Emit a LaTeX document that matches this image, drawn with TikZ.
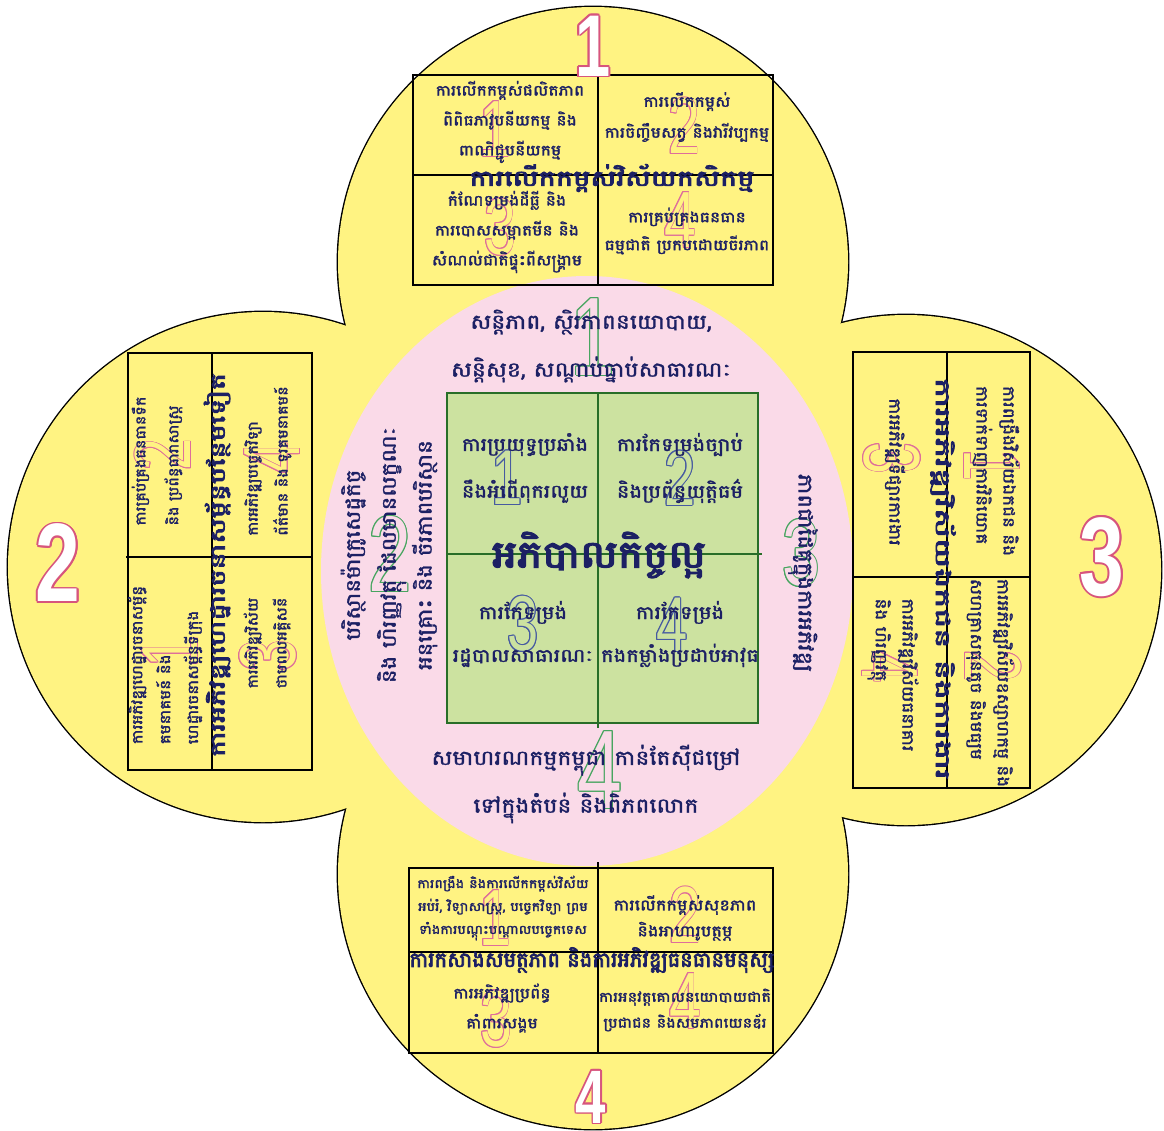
\documentclass[tikz,border=0pt]{standalone}
\usepackage{fontspec}
\usepackage{graphicx}
\usetikzlibrary{calc}
\newfontfamily\kh[Script=Khmer,FakeBold=1.8,FakeStretch=1.15]{Battambang}
\newfontfamily\khb[Script=Khmer,FakeBold=3.5]{Battambang}
\newfontfamily\numf{Liberation Sans}
\definecolor{ylw}{RGB}{255,243,130}
\definecolor{pnk}{RGB}{250,218,232}
\definecolor{grn}{RGB}{204,226,160}
\definecolor{dgrn}{RGB}{40,110,40}
\definecolor{navy}{RGB}{28,32,100}
\definecolor{pnum}{RGB}{222,110,155}
\definecolor{gnum}{RGB}{70,165,95}
\definecolor{bnum}{RGB}{70,90,160}
\definecolor{onum}{RGB}{215,85,125}
\tikzset{
  kt/.style={inner sep=0pt, text=navy, align=center},
  bx/.style={draw=black, line width=1.4bp},
  gl/.style={draw=dgrn, line width=1.3bp}
}
% x, y, rotation, size, digit, stroke colour, fill colour, font, offset
\newcommand\onum[9]{%
  \foreach \a in {0,30,...,330}{%
    \node[inner sep=0pt,rotate=#3,text=#6,font=#8\fontsize{#4}{#4}\selectfont] at ($(#1,#2)+(\a:#9)$) {\scalebox{0.72}[1]{#5}};}
  \node[inner sep=0pt,rotate=#3,text=#7,font=#8\fontsize{#4}{#4}\selectfont] at (#1,#2) {\scalebox{0.72}[1]{#5}};
}
% title of given width
\newcommand\ttl[2]{\resizebox{#1bp}{\height}{#2}}
\begin{document}
\begin{tikzpicture}[x=1bp,y=-1bp]
\useasboundingbox (0,0) rectangle (1164,1131);
\fill[white] (0,0) rectangle (1164,1131);
% petals
\draw[line width=2.8bp] (593,262) circle[radius=255bp];
\draw[line width=2.8bp] (263,567) circle[radius=255bp];
\draw[line width=2.8bp] (906,570) circle[radius=255bp];
\draw[line width=2.8bp] (593,874) circle[radius=255bp];
\fill[ylw] (593,262) circle[radius=255bp];
\fill[ylw] (263,567) circle[radius=255bp];
\fill[ylw] (906,570) circle[radius=255bp];
\fill[ylw] (593,874) circle[radius=255bp];
% pink centre
\fill[pnk] (587,571) ellipse[x radius=266bp, y radius=295bp];
% boxes
\draw[bx] (413,75) rectangle (773,285);
\draw[bx] (598,72) -- (598,285);
\draw[bx] (413,175) -- (773,175);
\draw[bx] (128,353) rectangle (312,770);
\draw[bx] (212,353) -- (212,770);
\draw[bx] (126,557) -- (312,557);
\draw[bx] (853,352) rectangle (1030,788);
\draw[bx] (947,352) -- (947,788);
\draw[bx] (853,577) -- (1030,577);
\draw[bx] (409,868) rectangle (773,1053);
\draw[bx] (598,862) -- (598,1053);
\draw[bx] (409,952) -- (773,952);
% green square
\fill[grn] (447,393) rectangle (758,723);
\draw[gl] (447,393) rectangle (758,723);
\draw[gl] (598,393) -- (598,728);
\draw[gl] (447,554) -- (762,554);
% big outer numbers
\onum{593}{46}{0}{88}{1}{onum}{white}{\numf\bfseries}{1.7}
\onum{58}{563}{0}{112}{2}{onum}{white}{\numf\bfseries}{1.7}
\onum{1102}{557}{0}{112}{3}{onum}{white}{\numf\bfseries}{1.7}
\onum{591}{1097}{0}{76}{4}{onum}{white}{\numf\bfseries}{1.7}
% pink-circle numbers
\onum{593}{337}{0}{112}{1}{gnum}{pnk}{\numf}{1.0}
\onum{390}{554}{0}{108}{2}{gnum}{pnk}{\numf}{1.0}
\onum{801}{553}{0}{95}{3}{gnum}{pnk}{\numf}{1.0}
\onum{600}{770}{0}{112}{4}{gnum}{pnk}{\numf}{1.0}
% green-square numbers
\onum{507}{478}{0}{78}{1}{bnum}{grn}{\numf}{1.0}
\onum{680}{478}{0}{78}{2}{bnum}{grn}{\numf}{1.0}
\onum{523}{624}{0}{78}{3}{bnum}{grn}{\numf}{1.0}
\onum{672}{625}{0}{78}{4}{bnum}{grn}{\numf}{1.0}
% top box numbers
\onum{495}{129}{0}{80}{1}{pnum}{ylw}{\numf}{0.9}
\onum{684}{126}{0}{80}{2}{pnum}{ylw}{\numf}{0.9}
\onum{500}{227}{0}{80}{3}{pnum}{ylw}{\numf}{0.9}
\onum{680}{220}{0}{80}{4}{pnum}{ylw}{\numf}{0.9}
% left box numbers (rotated)
\onum{163}{455}{90}{80}{2}{pnum}{ylw}{\numf}{0.9}
\onum{272}{458}{90}{80}{4}{pnum}{ylw}{\numf}{0.9}
\onum{170}{652}{90}{80}{1}{pnum}{ylw}{\numf}{0.9}
\onum{268}{656}{90}{80}{3}{pnum}{ylw}{\numf}{0.9}
% right box numbers (rotated)
\onum{992}{465}{-90}{80}{1}{pnum}{ylw}{\numf}{0.9}
\onum{892}{458}{-90}{80}{3}{pnum}{ylw}{\numf}{0.9}
\onum{993}{666}{-90}{80}{2}{pnum}{ylw}{\numf}{0.9}
\onum{890}{667}{-90}{80}{4}{pnum}{ylw}{\numf}{0.9}
% bottom box numbers
\onum{495}{918}{0}{80}{1}{pnum}{ylw}{\numf}{0.9}
\onum{685}{915}{0}{80}{2}{pnum}{ylw}{\numf}{0.9}
\onum{496}{1019}{0}{80}{3}{pnum}{ylw}{\numf}{0.9}
\onum{685}{1001}{0}{80}{4}{pnum}{ylw}{\numf}{0.9}
% ---------- texts ----------
% green square
\node[kt,font=\fontsize{18.5}{47}\selectfont\kh] (g1) at (525,468) {ការប្រយុទ្ធប្រឆាំង\\នឹងអំពើពុករលួយ};
\node[kt,font=\fontsize{18.5}{47}\selectfont\kh] (g2) at (680,468) {ការកែទម្រង់ច្បាប់\\និងប្រព័ន្ធយុត្តិធម៌};
\node[kt,font=\fontsize{18.5}{43}\selectfont\kh] (g3) at (523,634) {ការកែទម្រង់\\រដ្ឋបាលសាធារណៈ};
\node[kt,font=\fontsize{18.5}{43}\selectfont\kh] (g4) at (680,634) {ការកែទម្រង់\\កងកម្លាំងប្រដាប់អាវុធ};
\node[kt,font=\fontsize{38}{40}\selectfont\khb] (gt) at (599,555) {\ttl{214}{អភិបាលកិច្ចល្អ}};
% pink circle
\node[kt,font=\fontsize{20.5}{48}\selectfont\kh] (p1) at (591,346) {សន្តិភាព, ស្ថិរភាពនយោបាយ,\\សន្តិសុខ, សណ្តាប់ធ្នាប់សាធារណៈ};
\node[kt,font=\fontsize{20}{36}\selectfont\kh,rotate=90] (p2) at (389,555) {បរិស្ថានម៉ាក្រូសេដ្ឋកិច្ច\\និង ហិរញ្ញវត្ថុ ដែលមានលក្ខណៈ\\អនុគ្រោះ និង ចីរភាពបរិស្ថាន};
\node[kt,font=\fontsize{20}{36}\selectfont\kh,rotate=-90] (p3) at (803,573) {ភាពជាដៃគូក្នុងការអភិវឌ្ឍ};
\node[kt,font=\fontsize{20.5}{48}\selectfont\kh] (p4) at (586,784) {សមាហរណកម្មកម្ពុជា កាន់តែស៊ីជម្រៅ\\ទៅក្នុងតំបន់ និងពិភពលោក};
% top box
\node[kt,font=\fontsize{15}{30}\selectfont\kh] (a1) at (510,122) {ការលើកកម្ពស់ផលិតភាព\\ពិពិធភាវូបនីយកម្ម និង\\ពាណិជ្ជូបនីយកម្ម};
\node[kt,font=\fontsize{15}{31}\selectfont\kh] (a2) at (687,117) {ការលើកកម្ពស់\\ការចិញ្ចឹមសត្វ និងវារីវប្បកម្ម};
\node[kt,font=\fontsize{15}{30}\selectfont\kh] (a3) at (507,232) {កំណែទម្រង់ដីធ្លី និង\\ការបោសសម្អាតមីន និង\\សំណល់ជាតិផ្ទុះពីសង្គ្រាម};
\node[kt,font=\fontsize{15}{28}\selectfont\kh] (a4) at (687,231) {ការគ្រប់គ្រងធនធាន\\ធម្មជាតិ ប្រកបដោយចីរភាព};
\node[kt,font=\fontsize{22}{26}\selectfont\khb] (at) at (612,178) {\ttl{285}{ការលើកកម្ពស់វិស័យកសិកម្ម}};
% left box
\node[kt,align=left,font=\fontsize{14}{33}\selectfont\kh,rotate=90] (b2) at (157,461) {ការគ្រប់គ្រងធនធានទឹក\\និង ប្រព័ន្ធធារាសាស្ត្រ};
\node[kt,align=left,font=\fontsize{14}{30}\selectfont\kh,rotate=90] (b4) at (268,461) {ការអភិវឌ្ឍបច្ចេកវិទ្យា\\ព័ត៌មាន និង ទូរគមនាគមន៍};
\node[kt,align=left,font=\fontsize{14.5}{28}\selectfont\kh,rotate=90] (b1) at (165,665) {ការអភិវឌ្ឍហេដ្ឋារចនាសម្ព័ន្ធ\\គមនាគមន៍ និង\\ហេដ្ឋារចនាសម្ព័ន្ធទីក្រុង};
\node[kt,align=left,font=\fontsize{14}{29}\selectfont\kh,rotate=90] (b3) at (267,643) {ការអភិវឌ្ឍវិស័យ\\ថាមពលអគ្គិសនី};
\node[kt,font=\fontsize{20}{24}\selectfont\khb,rotate=90] (bt) at (217,565) {\ttl{384}{ការអភិវឌ្ឍហេដ្ឋារចនាសម្ព័ន្ធបន្ថែមទៀត}};
% right box
\node[kt,align=left,font=\fontsize{16}{27}\selectfont\kh,rotate=-90] (c1) at (996,471) {ការពង្រឹងវិស័យឯកជន និង\\ការទាក់ទាញការវិនិយោគ};
\node[kt,align=left,font=\fontsize{16}{27}\selectfont\kh,rotate=-90] (c3) at (895,472) {ការអភិវឌ្ឍទីផ្សារការងារ};
\node[kt,align=left,font=\fontsize{16}{27}\selectfont\kh,rotate=-90] (c2) at (990,683) {ការអភិវឌ្ឍវិស័យឧស្សាហកម្ម និង\\សហគ្រាសធុនតូច និងមធ្យម};
\node[kt,align=left,font=\fontsize{16}{27}\selectfont\kh,rotate=-90] (c4) at (893,675) {ការអភិវឌ្ឍវិស័យធនាគារ\\និង ហិរញ្ញវត្ថុ};
\node[kt,font=\fontsize{20}{24}\selectfont\khb,rotate=-90] (ct) at (943,579) {\ttl{402}{ការអភិវឌ្ឍវិស័យឯកជន និងការងារ}};
% bottom box
\node[kt,font=\fontsize{12.5}{23}\selectfont\kh] (d1) at (503,908) {ការពង្រឹង និងការលើកកម្ពស់វិស័យ\\អប់រំ, វិទ្យាសាស្ត្រ, បច្ចេកវិទ្យា ព្រម\\ទាំងការបណ្តុះបណ្តាលបច្ចេកទេស};
\node[kt,font=\fontsize{15.5}{26}\selectfont\kh] (d2) at (685,918) {ការលើកកម្ពស់សុខភាព\\និងអាហារូបត្ថម្ភ};
\node[kt,font=\fontsize{15}{30}\selectfont\kh] (d3) at (502,1008) {ការអភិវឌ្ឍប្រព័ន្ធ\\គាំពារសង្គម};
\node[kt,font=\fontsize{14}{26}\selectfont\kh] (d4) at (685,1010) {ការអនុវត្តគោលនយោបាយជាតិ\\ប្រជាជន និងសមភាពយេនឌ័រ};
\node[kt,font=\fontsize{21}{24}\selectfont\khb] (dt) at (592,960) {\ttl{365}{ការកសាងសមត្ថភាព និងការអភិវឌ្ឍធនធានមនុស្ស}};
\end{tikzpicture}
\end{document}
